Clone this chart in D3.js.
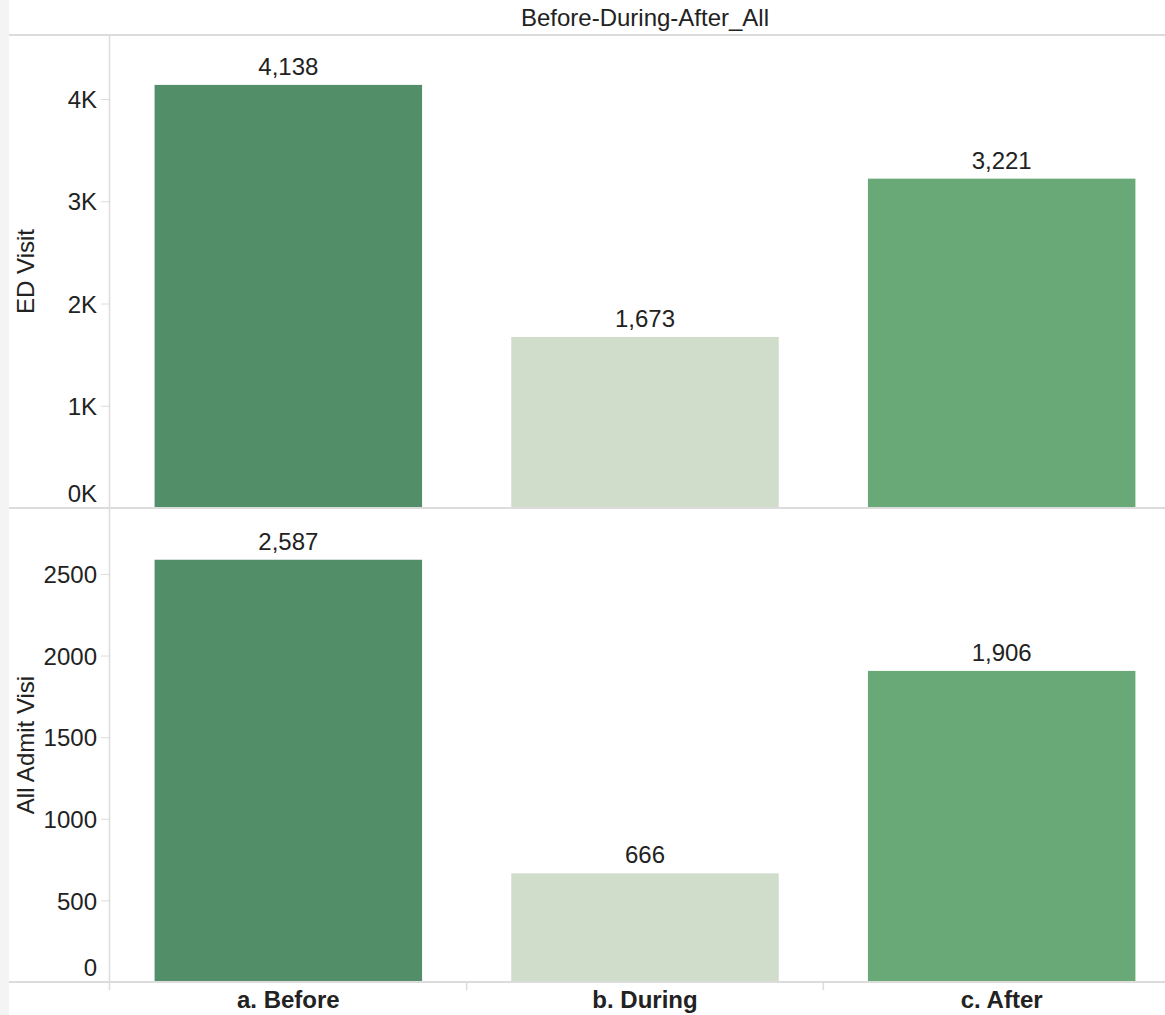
<!DOCTYPE html>
<html>
<head>
<meta charset="utf-8">
<script src="https://cdn.jsdelivr.net/npm/d3@7"></script>
<style>
  body { margin: 0; background: #fff; }
  text { font-family: "Liberation Sans", Arial, sans-serif; fill: #222; }
</style>
</head>
<body>
<svg width="1165" height="1015"></svg>
<script>
var categories = ["a. Before", "b. During", "c. After"];
var edVisit = [4138, 1673, 3221];
var admitVisit = [2587, 666, 1906];
var edTicks = [0, 1000, 2000, 3000, 4000];
var admitTicks = [0, 500, 1000, 1500, 2000, 2500];
var colors = ["#528f69", "#d1ddcb", "#69a977"];

var svg = d3.select("svg"),
  plotLeft = 110,
  plotTop = 35,
  plotMid = 508,
  plotBottom = 982,
  plotRight = 1180;

// light strip on the far left
svg.append("rect").attr("x", 0).attr("y", 0).attr("width", 9).attr("height", 1015).attr("fill", "#f4f4f4");

svg.append("text")
  .attr("x", 645).attr("y", 26)
  .attr("text-anchor", "middle")
  .style("font-size", "24px")
  .text("Before-During-After_All");

var x = d3.scaleBand().domain(categories).range([plotLeft, plotRight]).paddingInner(0.25).paddingOuter(0.125);

var panels = [
  {title: "ED Visit", values: edVisit, ticks: edTicks, domain: [0, 4626], y0: plotTop, y1: plotMid,
   fmt: function(d) { return (d / 1000) + "K"; }},
  {title: "All Admit Visi", values: admitVisit, ticks: admitTicks, domain: [0, 2904], y0: plotMid, y1: plotBottom,
   fmt: function(d) { return d; }}
];

var gridColor = "#dcdcdc";

panels.forEach(function(p) {
  var y = d3.scaleLinear().domain(p.domain).range([p.y1, p.y0]);

  svg.selectAll(null)
    .data(p.values)
    .enter().append("rect")
    .attr("x", function(d, i) { return x(categories[i]); })
    .attr("width", x.bandwidth())
    .attr("y", function(d) { return y(d); })
    .attr("height", function(d) { return y(0) - y(d); })
    .attr("fill", function(d, i) { return colors[i]; });

  svg.selectAll(null)
    .data(p.values)
    .enter().append("text")
    .attr("x", function(d, i) { return x(categories[i]) + x.bandwidth() / 2; })
    .attr("y", function(d) { return y(d) - 10; })
    .attr("text-anchor", "middle")
    .style("font-size", "24px")
    .text(function(d) { return d3.format(",")(d); });

  var ax = svg.append("g")
    .attr("transform", "translate(" + plotLeft + ",0)")
    .call(d3.axisLeft(y).tickValues(p.ticks).tickFormat(p.fmt).tickSize(9).tickPadding(4));
  ax.select(".domain").remove();
  ax.selectAll(".tick line").attr("stroke", gridColor);
  ax.selectAll(".tick text").style("font-size", "24px").attr("fill", "#222").attr("dy", "0.36em");
  ax.selectAll(".tick").filter(function(d) { return d === 0; }).select("text").attr("dy", "-0.27em");

  svg.append("text")
    .attr("transform", "translate(34," + ((p.y0 + p.y1) / 2) + ") rotate(-90)")
    .attr("text-anchor", "middle")
    .style("font-size", "24px")
    .text(p.title);
});

// frame lines
[plotTop, plotMid, plotBottom].forEach(function(yy) {
  svg.append("line").attr("x1", 9).attr("x2", 1165).attr("y1", yy).attr("y2", yy)
    .attr("stroke", gridColor).attr("stroke-width", 2);
});
svg.append("line").attr("x1", plotLeft - 0.5).attr("x2", plotLeft - 0.5).attr("y1", plotTop).attr("y2", plotBottom + 8)
  .attr("stroke", gridColor).attr("stroke-width", 1.5);

// category separators and labels
var xa = svg.append("g")
  .attr("transform", "translate(0," + plotBottom + ")")
  .call(d3.axisBottom(x).tickSize(0).tickPadding(9));
xa.select(".domain").remove();
xa.selectAll(".tick text").style("font-size", "24px").style("font-weight", "bold").attr("fill", "#111");

var step = x.step();
svg.selectAll(null)
  .data(categories.slice(1))
  .enter().append("line")
  .attr("x1", function(d) { return x(d) - step * 0.125; })
  .attr("x2", function(d) { return x(d) - step * 0.125; })
  .attr("y1", plotBottom).attr("y2", plotBottom + 8)
  .attr("stroke", gridColor).attr("stroke-width", 1.5);
</script>
</body>
</html>
